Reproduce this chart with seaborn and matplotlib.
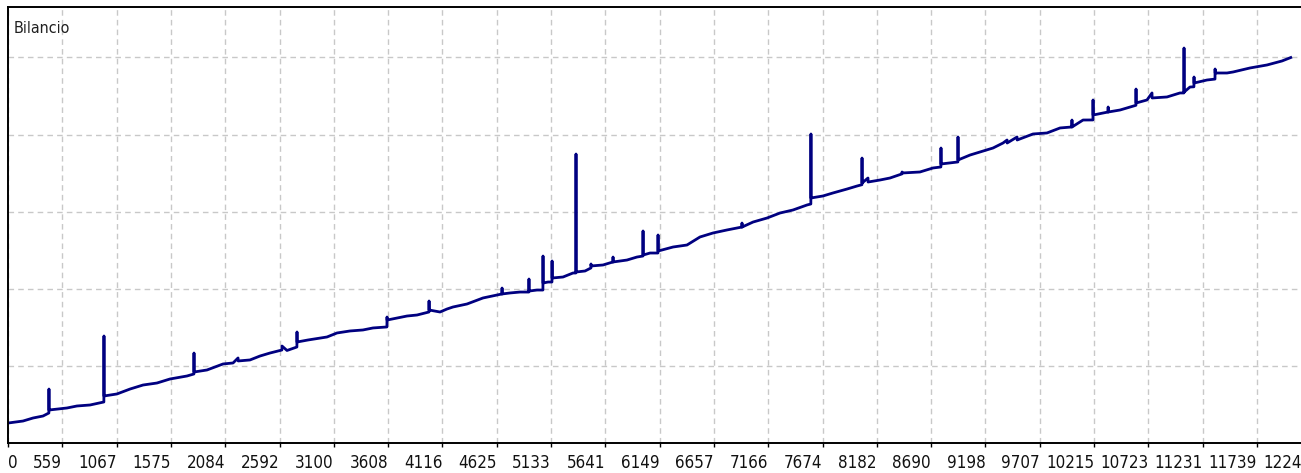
import matplotlib
matplotlib.use("Agg")
import matplotlib.pyplot as plt
import seaborn as sns
import numpy as np
import pandas as pd

# Numero operazione / saldo
trade = [0, 141, 235, 329, 384, 385, 386, 554, 648, 771, 901, 902, 903, 1024, 1147,
         1269, 1400, 1522, 1682, 1747, 1748, 1749, 1870, 2021, 2115, 2162, 2163, 2274,
         2368, 2462, 2574, 2575, 2622, 2715, 2716, 2717, 2819, 2998, 3092, 3214, 3336,
         3430, 3561, 3562, 3563, 3656, 3750, 3844, 3956, 3957, 3958, 4060, 4126, 4182,
         4314, 4464, 4596, 4642, 4643, 4644, 4718, 4812, 4895, 4896, 4897, 4972, 5027,
         5028, 5029, 5075, 5112, 5113, 5114, 5216, 5310, 5337, 5338, 5339, 5423, 5478,
         5479, 5480, 5592, 5685, 5686, 5687, 5817, 5911, 5967, 5968, 5969, 6034, 6108,
         6109, 6110, 6250, 6381, 6503, 6626, 6757, 6897, 6898, 6899, 7002, 7133, 7255,
         7377, 7509, 7545, 7546, 7547, 7659, 7753, 7885, 7979, 8025, 8026, 8027, 8082,
         8083, 8195, 8289, 8401, 8402, 8403, 8570, 8693, 8767, 8768, 8769, 8927, 8928,
         8929, 9041, 9135, 9257, 9351, 9389, 9390, 9483, 9484, 9633, 9764, 9887, 9998,
         9999, 10000, 10103, 10196, 10197, 10198, 10338, 10339, 10340, 10451, 10545,
         10600, 10601, 10602, 10704, 10751, 10752, 10892, 11014, 11051, 11052, 11053,
         11108, 11145, 11146, 11147, 11268, 11343, 11344, 11345, 11456, 11513, 11672,
         11832, 11973, 12067]
bilancio = [10259, 10285, 10324, 10350, 10389, 10700, 10428, 10454, 10480, 10493, 10532,
            11388, 10610, 10636, 10700, 10752, 10778, 10830, 10869, 10895, 11167, 10921,
            10947, 11025, 11038, 11103, 11064, 11077, 11128, 11167, 11206, 11258, 11200,
            11245, 11440, 11310, 11336, 11375, 11427, 11453, 11466, 11492, 11505, 11634,
            11595, 11621, 11647, 11660, 11699, 11842, 11725, 11699, 11738, 11764, 11803,
            11881, 11920, 11933, 12010, 11933, 11946, 11958, 11958, 12127, 11971, 11984,
            11984, 12425, 12075, 12088, 12088, 12361, 12140, 12153, 12205, 12205, 13748,
            12218, 12231, 12270, 12322, 12296, 12309, 12348, 12412, 12348, 12373, 12412,
            12425, 12750, 12438, 12464, 12464, 12698, 12490, 12542, 12568, 12672, 12724,
            12763, 12801, 12853, 12801, 12866, 12918, 12983, 13022, 13087, 13100, 14008,
            13178, 13204, 13243, 13294, 13333, 13350, 13696, 13372, 13437, 13385, 13411,
            13437, 13490, 13515, 13502, 13515, 13567, 13580, 13826, 13619, 13645, 13969,
            13671, 13735, 13774, 13826, 13891, 13930, 13891, 13969, 13930, 14008, 14021,
            14086, 14099, 14189, 14099, 14189, 14190, 14449, 14254, 14293, 14358, 14293,
            14319, 14358, 14380, 14591, 14410, 14449, 14540, 14475, 14488, 14540, 14540,
            15123, 14552, 14617, 14620, 14747, 14669, 14708, 14720, 14851, 14799, 14799,
            14812, 14864, 14903, 14955, 15006]

x_labels = ["0", "559", "1067", "1575", "2084", "2592", "3100", "3608", "4116",
            "4625", "5133", "5641", "6149", "6657", "7166", "7674", "8182", "8690",
            "9198", "9707", "10215", "10723", "11231", "11739", "12247"]

df = pd.DataFrame({"trade": trade, "bilancio": bilancio})

sns.set_style("white")
plt.rcParams['font.family'] = ['DejaVu Sans']

fig = plt.figure(figsize=(13.01, 4.73), dpi=100)
ax = fig.add_axes([8 / 1301, 30 / 473, 1322 / 1301, 436 / 473])

sns.lineplot(data=df, x="trade", y="bilancio", color="#000080", linewidth=2.0,
             estimator=None, sort=False, ax=ax,
             solid_capstyle="butt", solid_joinstyle="round")

step = 510.3  # un'etichetta ogni ~54 px
ax.set_xticks(np.arange(len(x_labels)) * step)
ax.set_xticklabels(x_labels, fontsize=12.2, fontstretch="condensed", color="#111111")
for i, lab in enumerate(ax.get_xticklabels()):
    lab.set_ha("left" if i == 0 else "right")
ax.set_xlim(0, 1322 / 54.3 * step)

ax.set_yticks(np.arange(10000, 16000, 1000))
ax.set_ylim(10000, 10000 + 436 * 12.97)
ax.tick_params(axis="y", left=False, labelleft=False)
ax.tick_params(axis="x", bottom=True, length=3, width=1, color="black", pad=5)

ax.grid(True, color="#c8c8c8", linestyle=(0, (4, 3)), linewidth=1)
for s in ax.spines.values():
    s.set_color("black")
    s.set_linewidth(1.4)

ax.set_xlabel("")
ax.set_ylabel("")
ax.text(0.004, 0.968, "Bilancio", transform=ax.transAxes, fontsize=11.5,
        fontstretch="condensed", va="top", ha="left", color="#202020")

fig.savefig("out.png", dpi=100)
